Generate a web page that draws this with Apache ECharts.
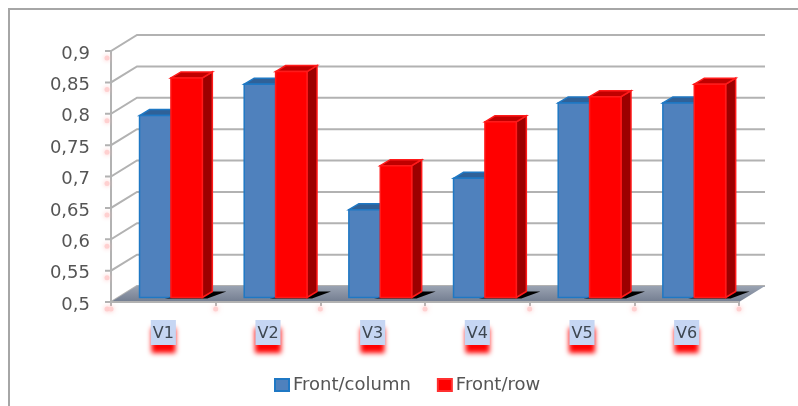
<!DOCTYPE html>
<html>
<head>
<meta charset="utf-8">
<style>html,body{margin:0;padding:0;background:#fff}#chart{width:798px;height:406px}</style>
<script src="https://cdn.jsdelivr.net/npm/echarts@6/dist/echarts.min.js"></script>
</head>
<body>
<div id="chart"></div>
<script>
const categories = ['V1', 'V2', 'V3', 'V4', 'V5', 'V6'];
const frontColumn = [0.79, 0.84, 0.64, 0.69, 0.81, 0.81];
const frontRow = [0.85, 0.86, 0.71, 0.78, 0.82, 0.84];
const valueTicks = [0.5, 0.55, 0.6, 0.65, 0.7, 0.75, 0.8, 0.85, 0.9];

// Depth of the pseudo-3D box and of each bar, in pixels.
const WALL_DX = 26, WALL_DY = -16;
const BAR_DX = 10, BAR_DY = -6;
const BAR_INSET_X = 7.6, BAR_INSET_Y = -4.5;
const BAR_RATIO = 0.3;
const GRID_COLOR = '#b2b2b2';

const chart = echarts.init(document.getElementById('chart'));

function line(points, color, width) {
  return { type: 'polyline', shape: { points }, style: { stroke: color, lineWidth: width, fill: null } };
}
function poly(points, fill, stroke) {
  return { type: 'polygon', shape: { points }, style: { fill, stroke: stroke || null, lineWidth: stroke ? 1.5 : 0 } };
}
function pinkSpot(x, y) {
  return { type: 'circle', shape: { cx: x, cy: y, r: 2.5 }, style: { fill: '#ffd0d0', shadowBlur: 5, shadowColor: '#ffc0c0' } };
}

// Back wall lines, tick stubs and their faint marks.
function renderWall(params, api) {
  const cs = params.coordSys;
  const y = api.coord([0, api.value(0)])[1];
  const left = cs.x, right = cs.x + cs.width;
  const children = [
    line([[left - 6, y], [left, y], [left + WALL_DX, y + WALL_DY], [right + WALL_DX, y + WALL_DY]], GRID_COLOR, 2),
    pinkSpot(left - 4, y + 7)
  ];
  return { type: 'group', children };
}

// Floor of the box with the marks along the category edge.
function renderFloor(params, api) {
  const cs = params.coordSys;
  const left = cs.x, right = cs.x + cs.width, y = cs.y + cs.height;
  const children = [
    {
      type: 'polygon',
      shape: { points: [[left, y], [left + WALL_DX, y + WALL_DY], [right + WALL_DX, y + WALL_DY], [right, y]] },
      style: {
        fill: new echarts.graphic.LinearGradient(0, 0, 0, 1, [
          { offset: 0, color: '#9aa3b2' }, { offset: 1, color: '#737d90' }
        ])
      }
    },
    line([[left, y], [right, y]], GRID_COLOR, 2)
  ];
  const band = cs.width / categories.length;
  for (let i = 0; i <= categories.length; i++) {
    children.push(pinkSpot(left + band * i, y + 7));
  }
  return { type: 'group', children };
}

function renderBar(offsetIndex, front, top, side, edge, withShadow) {
  return function (params, api) {
    const idx = api.value(0);
    const band = api.size([1, 0])[0];
    const w = band * BAR_RATIO;
    const c = api.coord([idx, api.value(1)]);
    const base = api.coord([idx, 0.5])[1] + BAR_INSET_Y;
    const x0 = c[0] + BAR_INSET_X + (offsetIndex === 0 ? -w : 0);
    const x1 = x0 + w;
    const yt = c[1] + BAR_INSET_Y;
    const children = [];
    if (withShadow) {
      children.push(poly([
        [x0 - w * 0.2, base + 1], [x1 + BAR_DX, base + BAR_DY],
        [x1 + 24, base + BAR_DY], [x1 + 5, base + 1]
      ], '#000'));
    }
    children.push(poly([[x1, base], [x1 + BAR_DX, base + BAR_DY], [x1 + BAR_DX, yt + BAR_DY], [x1, yt]], side, edge));
    children.push(poly([[x0, yt], [x0 + BAR_DX, yt + BAR_DY], [x1 + BAR_DX, yt + BAR_DY], [x1, yt]], top, edge));
    children.push(poly([[x0, base], [x1, base], [x1, yt], [x0, yt]], front, edge));
    return { type: 'group', children };
  };
}

chart.setOption({
  animation: false,
  backgroundColor: '#fff',
  graphic: [{
    type: 'polyline',
    shape: { points: [[798, 9], [9, 9], [9, 406]] },
    style: { stroke: '#a6a6a6', lineWidth: 2, fill: null },
    silent: true
  }],
  grid: { left: 111, right: 59, top: 51, bottom: 104 },
  legend: {
    left: 269, top: 371,
    icon: 'rect',
    itemWidth: 14, itemHeight: 12, itemGap: 26,
    data: ['Front/column', 'Front/row'],
    textStyle: { fontFamily: 'DejaVu Sans', fontSize: 18, color: '#555', padding: [0, 0, 0, -1] }
  },
  xAxis: {
    type: 'category',
    data: categories,
    axisLine: { show: false },
    axisTick: { show: true, length: 4, inside: false, lineStyle: { color: GRID_COLOR, width: 2 } },
    splitLine: { show: false },
    axisLabel: {
      margin: 18,
      fontFamily: 'DejaVu Sans',
      fontSize: 16,
      color: '#3d4650',
      backgroundColor: '#c6d6f3',
      padding: [6, 2, 3, 2],
      shadowColor: '#ff0000',
      shadowBlur: 5,
      shadowOffsetY: 8
    }
  },
  yAxis: {
    type: 'value',
    min: 0.5, max: 0.9, interval: 0.05,
    axisLine: { show: true, lineStyle: { color: GRID_COLOR, width: 2 } },
    axisTick: { show: false },
    splitLine: { show: false },
    axisLabel: {
      margin: 21,
      fontFamily: 'DejaVu Sans',
      fontSize: 18,
      color: '#555',
      verticalAlign: 'top',
      lineHeight: 6,
      formatter: v => String(+v.toFixed(2)).replace('.', ',')
    }
  },
  series: [
    {
      type: 'custom', name: 'walls', silent: true, z: 1,
      data: valueTicks.map(v => [v]),
      encode: { y: 0 },
      renderItem: renderWall
    },
    {
      type: 'custom', name: 'floor', silent: true, z: 2,
      data: [[0.5]],
      encode: { y: 0 },
      renderItem: renderFloor
    },
    {
      type: 'custom', name: 'Front/column', z: 3,
      itemStyle: { color: '#4f81bd', borderColor: '#1f78c4', borderWidth: 1 },
      data: frontColumn.map((v, i) => [i, v]),
      encode: { x: 0, y: 1 },
      renderItem: renderBar(0, '#4f81bd', '#2f6198', '#2f6198', '#1f78c4', false)
    },
    {
      type: 'custom', name: 'Front/row', z: 4,
      itemStyle: { color: '#ff0000', borderColor: '#ff3030', borderWidth: 1 },
      data: frontRow.map((v, i) => [i, v]),
      encode: { x: 0, y: 1 },
      renderItem: renderBar(1, '#ff0000', '#c00000', '#9c0000', '#ff1a1a', true)
    }
  ]
});
</script>
</body>
</html>
